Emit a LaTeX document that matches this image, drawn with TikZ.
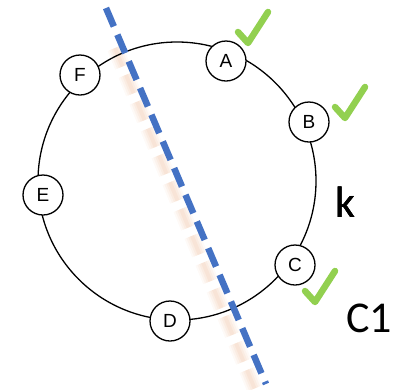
\documentclass[tikz,border=0pt]{standalone}
\usepackage{fontspec}
\setmainfont{Liberation Sans}
\newfontfamily\labelfont{Carlito}
\usetikzlibrary{positioning}
\definecolor{cutblue}{RGB}{68,114,196}
\definecolor{tickgreen}{RGB}{146,208,80}
\definecolor{shadeorange}{RGB}{236,178,138}
\tikzset{
  peer/.style={circle, draw=black, line width=1.3pt, fill=white,
               minimum size=40pt, inner sep=0pt, font=\fontsize{19}{19}\selectfont},
  ring/.style={draw=black, line width=1.3pt},
  cut/.style={draw=cutblue, line width=6.5pt, dash pattern=on 20pt off 9pt},
  cutshade/.style={draw=shadeorange, dash pattern=on 20pt off 9pt},
  tickmark/.style={draw=tickgreen, line width=6.5pt, line join=round, line cap=round},
  tag/.style={font=\labelfont\fontsize{44}{44}\selectfont, inner sep=0pt},
}
\newcommand{\okmark}[1]{\draw[tickmark] (#1) ++(-10,-11) -- (#1) -- ++(20,-31);}

\begin{document}
\begin{tikzpicture}[x=1pt,y=-1pt]
\useasboundingbox (0,0) rectangle (398,389);
% Ring
\coordinate (hub) at (177,181);
% Schatten und Schnittlinie
\coordinate (shadetop) at (115,48);
\coordinate (shadebot) at (256,392);
\foreach \w/\o in {16/0.07,12/0.09,8/0.11,4/0.13}
  \draw[cutshade, line width=\w pt, opacity=\o] (shadetop) -- (shadebot);
\draw[ring] (hub) circle[radius=139pt];
\coordinate (cuttop) at (106,8);
\coordinate (cutbot) at (266,384);
\draw[cut] (cuttop) -- (cutbot);
% Knoten
\node[peer] (a) at (226,61) {A};
\node[peer] (b) at (309,122) {B};
\node[peer] (c) at (295,265) {C};
\node[peer] (d) at (170,321) {D};
\node[peer] (e) at (43,195) {E};
\node[peer] (f) at (80,75) {F};
% Haken
\coordinate (oka) at (248,43);
\coordinate (okb) at (345,118);
\coordinate (okc) at (315,302);
\foreach \p in {oka,okb,okc} \okmark{\p}
% Beschriftung
\node[tag] (klabel) at (345,202) {k};
\node[tag] (c1label) at (369,318) {C1};
\end{tikzpicture}
\end{document}
